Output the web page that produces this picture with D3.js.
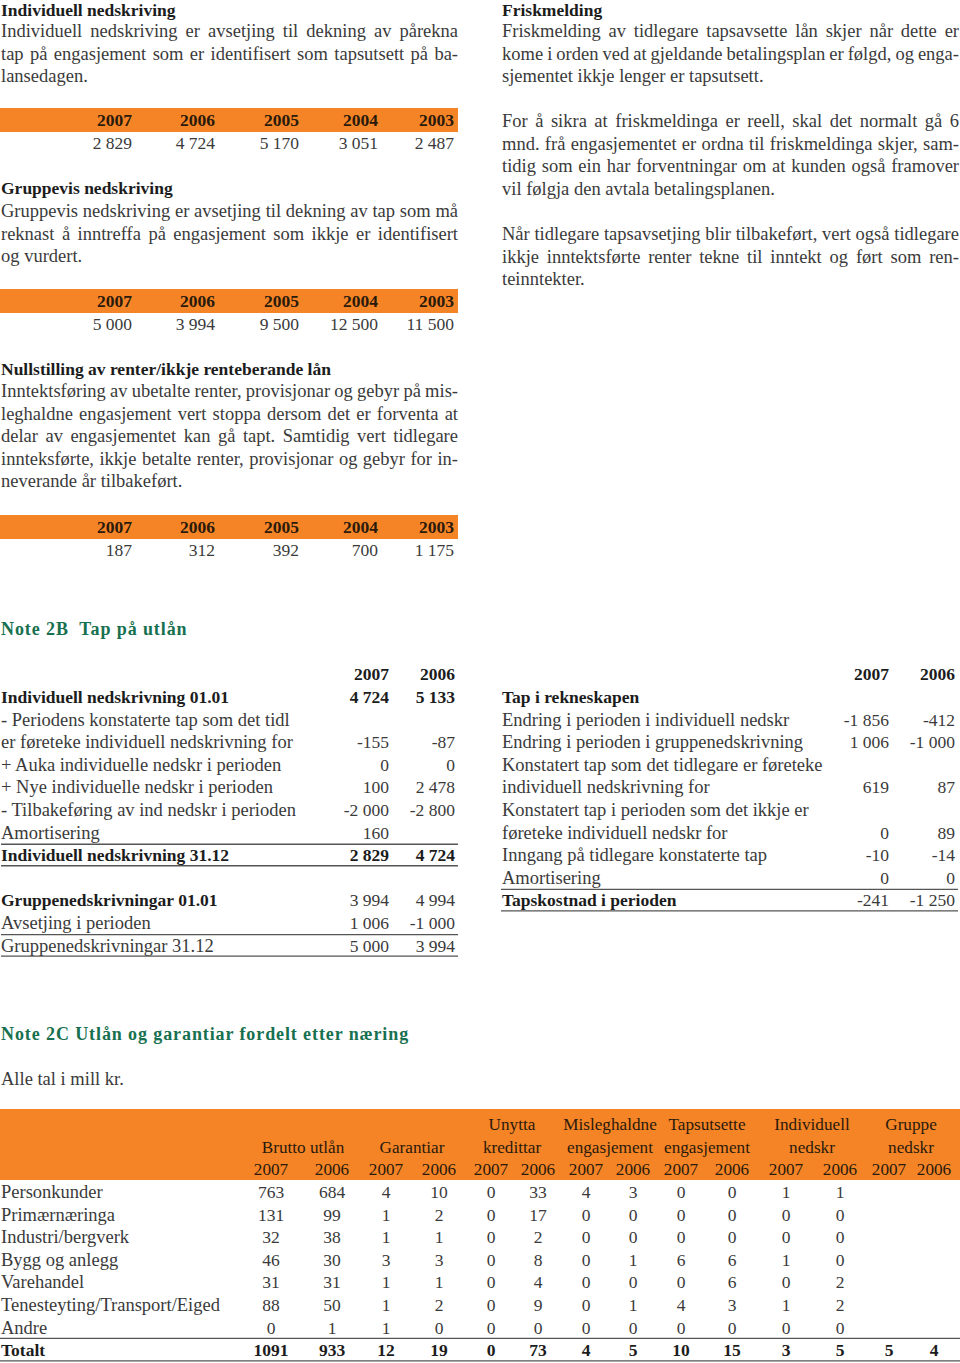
<!DOCTYPE html>
<html><head><meta charset="utf-8">
<script src="https://cdn.jsdelivr.net/npm/d3@7"></script>
<style>
html,body{margin:0;padding:0;background:#fff;}
svg{display:block;}
</style></head>
<body>
<svg id="page" width="960" height="1363"></svg>
<script>
// ---------- DATA ----------
const years5 = ["2007","2006","2005","2004","2003"];
const indivNedskriving = [2829, 4724, 5170, 3051, 2487];
const gruppeNedskriving = [5000, 3994, 9500, 12500, 11500];
const nullstilling = [187, 312, 392, 700, 1175];

const years2 = ["2007","2006"];
const note2BLeftLabels = ["Individuell nedskrivning 01.01","- Periodens konstaterte tap som det tidl","er føreteke individuell nedskrivning for","+ Auka individuelle nedskr i perioden","+ Nye individuelle nedskr i perioden","- Tilbakeføring av ind nedskr i perioden","Amortisering","Individuell nedskrivning 31.12","","Gruppenedskrivningar 01.01","Avsetjing i perioden","Gruppenedskrivningar 31.12"];
const note2BLeft2007 = [4724, null, -155, 0, 100, -2000, 160, 2829, null, 3994, 1006, 5000];
const note2BLeft2006 = [5133, null, -87, 0, 2478, -2800, null, 4724, null, 4994, -1000, 3994];
const note2BLeftBoldLabel = [1,0,0,0,0,0,0,1,0,1,0,0];
const note2BLeftBoldValue = [1,0,0,0,0,0,0,1,0,0,0,0];

const note2BRightLabels = ["Tap i rekneskapen","Endring i perioden i individuell nedskr","Endring i perioden i gruppenedskrivning","Konstatert tap som det tidlegare er føreteke","individuell nedskrivning for","Konstatert tap i perioden som det ikkje er","føreteke individuell nedskr for","Inngang på tidlegare konstaterte tap","Amortisering","Tapskostnad i perioden"];
const note2BRight2007 = [null, -1856, 1006, null, 619, null, 0, -10, 0, -241];
const note2BRight2006 = [null, -412, -1000, null, 87, null, 89, -14, 0, -1250];
const note2BRightBoldLabel = [1,0,0,0,0,0,0,0,0,1];

const categories2C = ["Personkunder","Primærnæringa","Industri/bergverk","Bygg og anlegg","Varehandel","Tenesteyting/Transport/Eiged","Andre","Totalt"];
const groups2C = [["Brutto utlån"],["Garantiar"],["Unytta","kredittar"],["Misleghaldne","engasjement"],["Tapsutsette","engasjement"],["Individuell","nedskr"],["Gruppe","nedskr"]];
const brutto2007 = [763, 131, 32, 46, 31, 88, 0, 1091];
const brutto2006 = [684, 99, 38, 30, 31, 50, 1, 933];
const garantiar2007 = [4, 1, 1, 3, 1, 1, 1, 12];
const garantiar2006 = [10, 2, 1, 3, 1, 2, 0, 19];
const unytta2007 = [0, 0, 0, 0, 0, 0, 0, 0];
const unytta2006 = [33, 17, 2, 8, 4, 9, 0, 73];
const misleg2007 = [4, 0, 0, 0, 0, 0, 0, 4];
const misleg2006 = [3, 0, 0, 1, 0, 1, 0, 5];
const tapsutsette2007 = [0, 0, 0, 6, 0, 4, 0, 10];
const tapsutsette2006 = [0, 0, 0, 6, 6, 3, 0, 15];
const individuell2007 = [1, 0, 0, 1, 0, 1, 0, 3];
const individuell2006 = [1, 0, 0, 0, 2, 2, 0, 5];
const gruppe2007 = [null, null, null, null, null, null, null, 5];
const gruppe2006 = [null, null, null, null, null, null, null, 4];

// ---------- STYLE ----------
const FONT = "'Liberation Serif', 'Times New Roman', serif";
const FS = 18.5;      // regular running text / labels
const FSB = 17.5;     // bold headings / labels
const FSN = 17.5;     // numbers
const LH = 22.6;
const ORANGE = "#f58426";
const GREEN = "#17704f";
const TXT = "#3a3a3a";
const BOLD = "#1c1c1c";
const HDR = "#2a1a0c";

const svg = d3.select("#page");
svg.append("rect").attr("width",960).attr("height",1363).attr("fill","#fff");

const fmt = v => v == null ? "" : (v < 0 ? "-" : "") + d3.format(",")(Math.abs(v)).replace(/,/g, " ");
const fmtPlain = v => v == null ? "" : String(v);

function txt(g, s, x, yc, opt = {}) {
  return g.append("text")
    .attr("x", x).attr("y", yc + (opt.dy != null ? opt.dy : 6))
    .attr("font-family", FONT)
    .attr("font-size", opt.size || (opt.bold ? FSB : FS))
    .attr("font-weight", opt.bold ? "bold" : "normal")
    .attr("fill", opt.fill || (opt.bold ? BOLD : TXT))
    .attr("text-anchor", opt.anchor || "start")
    .attr("letter-spacing", opt.ls || null)
    .attr("xml:space", "preserve")
    .text(s);
}

function para(g, lines, x, yc0, width) {
  lines.forEach((line, i) => {
    const yc = yc0 + i * LH;
    const last = i === lines.length - 1;
    const t = g.append("text").attr("y", yc + 6)
      .attr("font-family", FONT).attr("font-size", FS).attr("fill", TXT);
    const words = line.split(" ");
    const spans = words.map(w => t.append("tspan").text(w));
    const widths = spans.map(s => s.node().getComputedTextLength());
    const sum = d3.sum(widths);
    const spaceW = FS * 0.25;
    let gap = last || words.length < 2 ? spaceW : (width - sum) / (words.length - 1);
    let cx = x;
    spans.forEach((s, k) => { s.attr("x", cx); cx += widths[k] + gap; });
  });
}

// ---------- TOP LEFT ----------
const L = svg.append("g");
txt(L, "Individuell nedskriving", 1, 8, {bold: true, dy: 7.5});
para(L, ["Individuell nedskriving er avsetjing til dekning av pårekna",
         "tap på engasjement som er identifisert som tapsutsett på ba-",
         "lansedagen."], 1, 31, 457);

const x5 = d3.scaleOrdinal().domain(years5).range([132, 215, 299, 378, 454]);

function yearTable(g, values, yTop) {
  g.append("rect").attr("x", 0).attr("y", yTop).attr("width", 458).attr("height", 24).attr("fill", ORANGE);
  years5.forEach((yr, i) => {
    txt(g, yr, x5(yr), yTop + 12, {bold: true, anchor: "end", fill: HDR});
    txt(g, fmt(values[i]), x5(yr), yTop + 35, {anchor: "end", size: FSN});
  });
}
yearTable(L, indivNedskriving, 108);

txt(L, "Gruppevis nedskriving", 1, 188, {bold: true});
para(L, ["Gruppevis nedskriving er avsetjing til dekning av tap som må",
         "reknast å inntreffa på engasjement som ikkje er identifisert",
         "og vurdert."], 1, 211, 457);
yearTable(L, gruppeNedskriving, 289);

txt(L, "Nullstilling av renter/ikkje renteberande lån", 1, 369, {bold: true});
para(L, ["Inntektsføring av ubetalte renter, provisjonar og gebyr på mis-",
         "leghaldne engasjement vert stoppa dersom det er forventa at",
         "delar av engasjementet kan gå tapt. Samtidig vert tidlegare",
         "innteksførte, ikkje betalte renter, provisjonar og gebyr for in-",
         "neverande år tilbakeført."], 1, 391, 457);
yearTable(L, nullstilling, 515);

// ---------- TOP RIGHT ----------
const R = svg.append("g");
txt(R, "Friskmelding", 502, 8, {bold: true, dy: 7.5});
para(R, ["Friskmelding av tidlegare tapsavsette lån skjer når dette er",
         "kome i orden ved at gjeldande betalingsplan er følgd, og enga-",
         "sjementet ikkje lenger er tapsutsett."], 502, 31, 457);
para(R, ["For å sikra at friskmeldinga er reell, skal det normalt gå 6",
         "mnd. frå engasjementet er ordna til friskmeldinga skjer, sam-",
         "tidig som ein har forventningar om at kunden også framover",
         "vil følgja den avtala betalingsplanen."], 502, 121, 457);
para(R, ["Når tidlegare tapsavsetjing blir tilbakeført, vert også tidlegare",
         "ikkje inntektsførte renter tekne til inntekt og ført som ren-",
         "teinntekter."], 502, 234, 457);

// ---------- NOTE 2B ----------
const N2 = svg.append("g");
txt(N2, "Note 2B\u00a0 Tap på utlån", 1, 629, {bold: true, fill: GREEN, size: 18, ls: "0.9px"});

const yRowsL = d3.scaleLinear().domain([0, 1]).range([697, 697 + 22.6]);
const xL = d3.scaleOrdinal().domain(years2).range([389, 455]);
years2.forEach(y => txt(N2, y, xL(y), 674, {bold: true, anchor: "end"}));
note2BLeftLabels.forEach((lab, i) => {
  const yc = yRowsL(i);
  txt(N2, lab, 1, yc, {bold: !!note2BLeftBoldLabel[i]});
  txt(N2, fmt(note2BLeft2007[i]), xL("2007"), yc, {anchor: "end", bold: !!note2BLeftBoldValue[i], size: FSN});
  txt(N2, fmt(note2BLeft2006[i]), xL("2006"), yc, {anchor: "end", bold: !!note2BLeftBoldValue[i], size: FSN});
});
function rule(g, x1, x2, y) {
  g.append("line").attr("x1", x1).attr("x2", x2).attr("y1", y).attr("y2", y)
    .attr("stroke", "#555").attr("stroke-width", 1.4);
}
[7, 11].forEach(i => {
  rule(N2, 1, 458, yRowsL(i) - 11);
  rule(N2, 1, 458, yRowsL(i) + 10.5);
});

const yRowsR = d3.scaleLinear().domain([0, 1]).range([697, 697 + 22.6]);
const xR = d3.scaleOrdinal().domain(years2).range([889, 955]);
years2.forEach(y => txt(N2, y, xR(y), 674, {bold: true, anchor: "end"}));
note2BRightLabels.forEach((lab, i) => {
  const yc = yRowsR(i);
  txt(N2, lab, 502, yc, {bold: !!note2BRightBoldLabel[i]});
  txt(N2, fmt(note2BRight2007[i]), xR("2007"), yc, {anchor: "end", size: FSN});
  txt(N2, fmt(note2BRight2006[i]), xR("2006"), yc, {anchor: "end", size: FSN});
});
rule(N2, 501, 958, yRowsR(9) - 11);
rule(N2, 501, 958, yRowsR(9) + 10.5);

// ---------- NOTE 2C ----------
const N3 = svg.append("g");
txt(N3, "Note 2C Utlån og garantiar fordelt etter næring", 1, 1034, {bold: true, fill: GREEN, size: 18, ls: "0.9px"});
txt(N3, "Alle tal i mill kr.", 1, 1079);

N3.append("rect").attr("x", 0).attr("y", 1109).attr("width", 960).attr("height", 71).attr("fill", ORANGE);

const colKeys = ["b07","b06","g07","g06","u07","u06","m07","m06","t07","t06","i07","i06","r07","r06"];
const colSeries = [brutto2007, brutto2006, garantiar2007, garantiar2006, unytta2007, unytta2006, misleg2007, misleg2006, tapsutsette2007, tapsutsette2006, individuell2007, individuell2006, gruppe2007, gruppe2006];
const x2C = d3.scaleOrdinal().domain(colKeys)
  .range([271, 332, 386, 439, 491, 538, 586, 633, 681, 732, 786, 840, 889, 934]);
const groupCenters = d3.scaleOrdinal().domain(d3.range(groups2C.length))
  .range([303, 412, 512, 610, 707, 812, 911]);

groups2C.forEach((lines, gi) => {
  const start = lines.length === 1 ? 1147 : 1124;
  lines.forEach((l, k) => txt(N3, l, groupCenters(gi), start + k * 22.6, {anchor: "middle", fill: HDR, size: 17.2}));
});
colKeys.forEach((k, i) => txt(N3, i % 2 === 0 ? "2007" : "2006", x2C(k), 1169, {anchor: "middle", fill: HDR, size: 17.2}));

const y2C = d3.scaleBand().domain(categories2C).range([1181, 1181 + 22.55 * categories2C.length]);
categories2C.forEach((cat, r) => {
  const yc = y2C(cat) + y2C.bandwidth() / 2;
  const isTot = r === categories2C.length - 1;
  txt(N3, cat, 1, yc, {bold: isTot});
  colKeys.forEach((k, c) => {
    txt(N3, fmtPlain(colSeries[c][r]), x2C(k), yc, {anchor: "middle", bold: isTot, size: FSN});
  });
});
const totY = y2C("Totalt");
rule(N3, 0, 960, totY - 0.5);
rule(N3, 0, 960, totY + y2C.bandwidth() - 0.5);
</script>
</body></html>
